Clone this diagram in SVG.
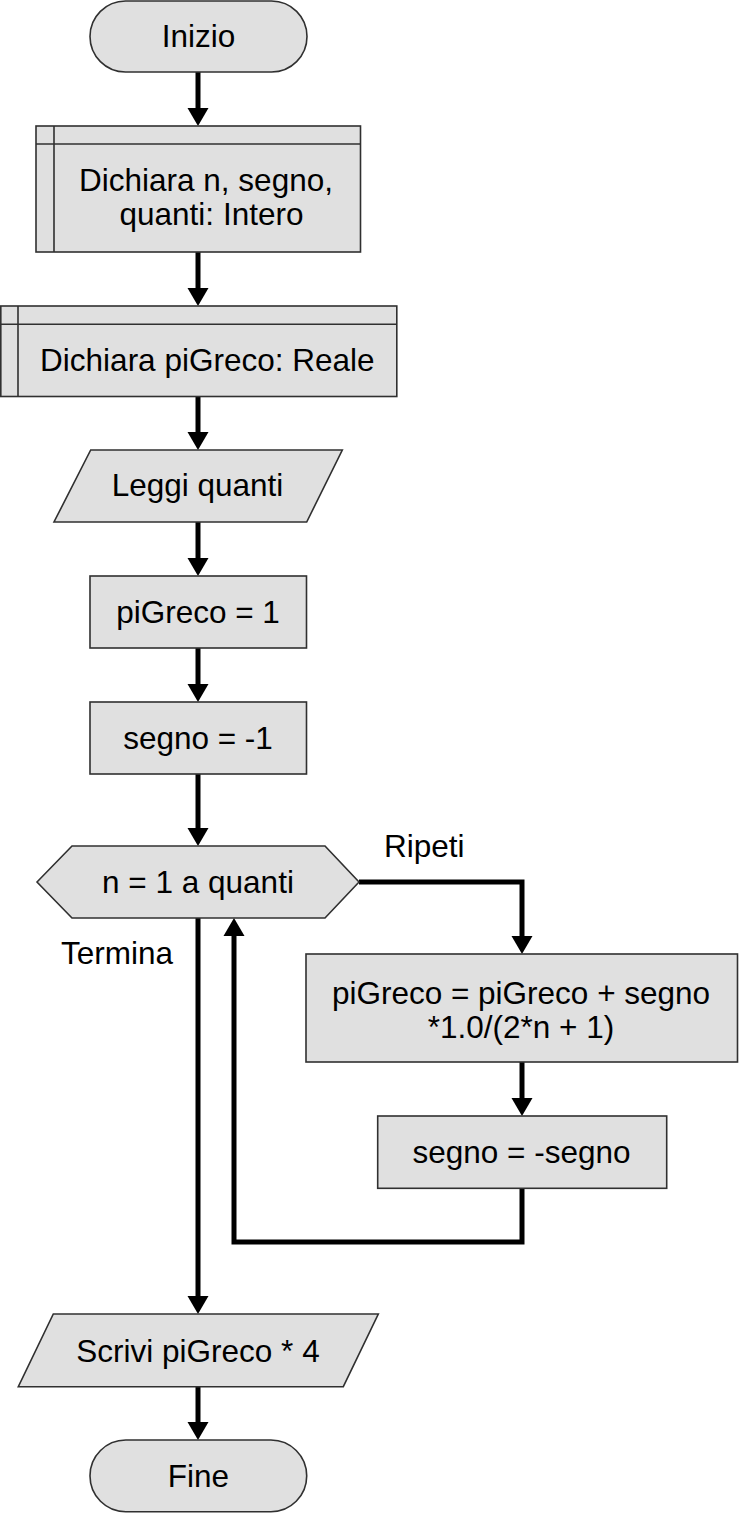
<svg xmlns="http://www.w3.org/2000/svg" width="739" height="1513" viewBox="0 0 739 1513">
<style>
.n{fill:#e0e0e0;stroke:#303030;stroke-width:1.6}
.l{fill:none;stroke:#303030;stroke-width:1.6}
.t{font-family:"Liberation Sans",Arial,sans-serif;font-size:31.5px;fill:#000;text-anchor:middle}
.s{font-family:"Liberation Sans",Arial,sans-serif;font-size:31.5px;fill:#000}
.c{fill:none;stroke:#000;stroke-width:5;marker-end:url(#a)}
</style>
<defs>
<marker id="a" markerUnits="userSpaceOnUse" markerWidth="18" markerHeight="21" refX="0" refY="10.5" orient="auto" overflow="visible">
<path d="M0,0 L18,10.5 L0,21 Z" fill="#000"/>
</marker>
</defs>
<rect width="739" height="1513" fill="#fff"/>
<g id="connectors">
<path class="c" d="M198,72 V108"/>
<path class="c" d="M198,252 V288"/>
<path class="c" d="M198,397 V432"/>
<path class="c" d="M198,522 V558"/>
<path class="c" d="M198,648 V684"/>
<path class="c" d="M198,774 V828"/>
<path class="c" d="M359,882 H522 V936"/>
<path class="c" d="M522,1062 V1098"/>
<path class="c" d="M522,1188 V1242 H234 V936"/>
<path class="c" d="M198,918 V1296"/>
<path class="c" d="M198,1387 V1422"/>
</g>
<g id="inizio">
<rect class="n" x="90" y="1" width="217" height="71" rx="35.5"/>
<text class="t" x="198.5" y="47">Inizio</text>
</g>
<g id="dichiara1">
<rect class="n" x="36" y="126" width="324.5" height="126"/>
<path class="l" d="M54,126 V252 M36,144 H360.5"/>
<text class="t" x="206" y="191">Dichiara n, segno,</text>
<text class="t" x="211.5" y="225">quanti: Intero</text>
</g>
<g id="dichiara2">
<rect class="n" x="0.8" y="306" width="396" height="90.5"/>
<path class="l" d="M18,306 V396.5 M0.8,324.3 H396.8"/>
<text class="t" x="207.3" y="371">Dichiara piGreco: Reale</text>
</g>
<g id="leggi">
<polygon class="n" points="90.7,450 342.3,450 306.7,522 54,522"/>
<text class="t" x="197.5" y="496">Leggi quanti</text>
</g>
<g id="pigreco1">
<rect class="n" x="90" y="576" width="216.5" height="72"/>
<text class="t" x="198" y="623">piGreco = 1</text>
</g>
<g id="segno1">
<rect class="n" x="90" y="702" width="216.5" height="72"/>
<text class="t" x="198" y="749">segno = -1</text>
</g>
<g id="ciclo">
<polygon class="n" points="37,882 72,846 325,846 359,882 325,918 72,918"/>
<text class="t" x="198" y="893">n = 1 a quanti</text>
</g>
<g id="label-ripeti">
<text class="s" x="384" y="857">Ripeti</text>
</g>
<g id="label-termina">
<text class="s" x="61" y="964">Termina</text>
</g>
<g id="pigreco2">
<rect class="n" x="306" y="954" width="431.5" height="108"/>
<text class="t" x="521" y="1004">piGreco = piGreco + segno</text>
<text class="t" x="521" y="1038">*1.0/(2*n + 1)</text>
</g>
<g id="segno2">
<rect class="n" x="377.7" y="1116" width="289" height="72.3"/>
<text class="t" x="521.5" y="1163">segno = -segno</text>
</g>
<g id="scrivi">
<polygon class="n" points="53.3,1314 378.3,1314 343.3,1386.7 18.3,1386.7"/>
<text class="t" x="198" y="1362">Scrivi piGreco * 4</text>
</g>
<g id="fine">
<rect class="n" x="90" y="1440" width="216.7" height="71.7" rx="35.8"/>
<text class="t" x="198.3" y="1487">Fine</text>
</g>
</svg>
